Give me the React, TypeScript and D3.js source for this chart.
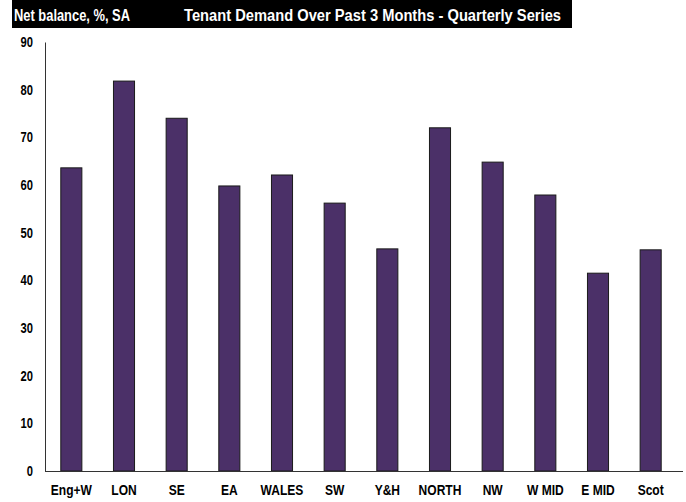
import * as d3 from 'd3';
import React, { useEffect, useRef } from 'react';

const regions = ['Eng+W', 'LON', 'SE', 'EA', 'WALES', 'SW', 'Y&H', 'NORTH', 'NW', 'W MID', 'E MID', 'Scot'];
const balances = [63.6, 81.8, 74.0, 59.8, 62.1, 56.2, 46.6, 72.0, 64.8, 57.9, 41.5, 46.4];
const yTicks = [0, 10, 20, 30, 40, 50, 60, 70, 80, 90];

const W = 686;
const H = 502;
const FONT = "'Liberation Sans', Arial, sans-serif";
const SQUEEZE = 0.8; // fake the narrow face of the original

const App: React.FC = () => {
  const ref = useRef<SVGSVGElement | null>(null);

  useEffect(() => {
    const svg = d3.select(ref.current);
    svg.selectAll('*').remove();
    const margin = { top: 42, right: 9, bottom: 31, left: 45 };

    const x = d3.scaleBand().domain(regions).range([margin.left, W - margin.right])
      .paddingInner(0.6).paddingOuter(0.3);
    const y = d3.scaleLinear().domain([0, 90]).range([H - margin.bottom, margin.top]);

    // header band
    svg.append('rect').attr('x', 12).attr('y', 0).attr('width', 560).attr('height', 28).attr('fill', '#000');
    svg.append('text').attr('x', 14).attr('y', 21).attr('fill', '#fff')
      .attr('font-family', FONT).attr('font-weight', 'bold').attr('font-size', 16)
      .attr('textLength', 116).attr('lengthAdjust', 'spacingAndGlyphs')
      .text('Net balance, %, SA');
    svg.append('text').attr('x', 184).attr('y', 21).attr('fill', '#fff')
      .attr('font-family', FONT).attr('font-weight', 'bold').attr('font-size', 16)
      .attr('textLength', 377).attr('lengthAdjust', 'spacingAndGlyphs')
      .text('Tenant Demand Over Past 3 Months - Quarterly Series');

    // bars
    svg.append('g').selectAll('rect').data(regions).enter().append('rect')
      .attr('x', d => x(d) ?? 0)
      .attr('y', (d, i) => y(balances[i]))
      .attr('width', x.bandwidth())
      .attr('height', (d, i) => y(0) - y(balances[i]))
      .attr('fill', '#4b3068')
      .attr('stroke', '#1a1a1a')
      .attr('stroke-width', 1);

    // y axis
    const yAxis = svg.append('g').attr('transform', `translate(${margin.left},0)`)
      .call(d3.axisLeft(y).tickValues(yTicks).tickSize(0));
    yAxis.select('.domain').attr('stroke', '#333');
    yAxis.selectAll('text')
      .attr('x', -12 / SQUEEZE)
      .attr('transform', `scale(${SQUEEZE},1)`)
      .attr('font-family', FONT).attr('font-weight', 'bold').attr('font-size', 14).attr('fill', '#000');

    // x axis
    const xAxis = svg.append('g').attr('transform', `translate(0,${y(0)})`)
      .call(d3.axisBottom(x).tickSize(0).tickPadding(14));
    xAxis.select('.domain').attr('stroke', '#333').attr('d', `M${margin.left},0.5H${W - 3}`);
    xAxis.selectAll('text')
      .attr('transform', `scale(0.86,1)`)
      .attr('font-family', FONT).attr('font-weight', 'bold').attr('font-size', 14).attr('fill', '#000');
  }, []);

  return (
    <div style={{ position: 'absolute', left: 0, top: 0, background: '#fff' }}>
      <svg ref={ref} width={W} height={H} style={{ display: 'block' }} />
    </div>
  );
};

export default App;
